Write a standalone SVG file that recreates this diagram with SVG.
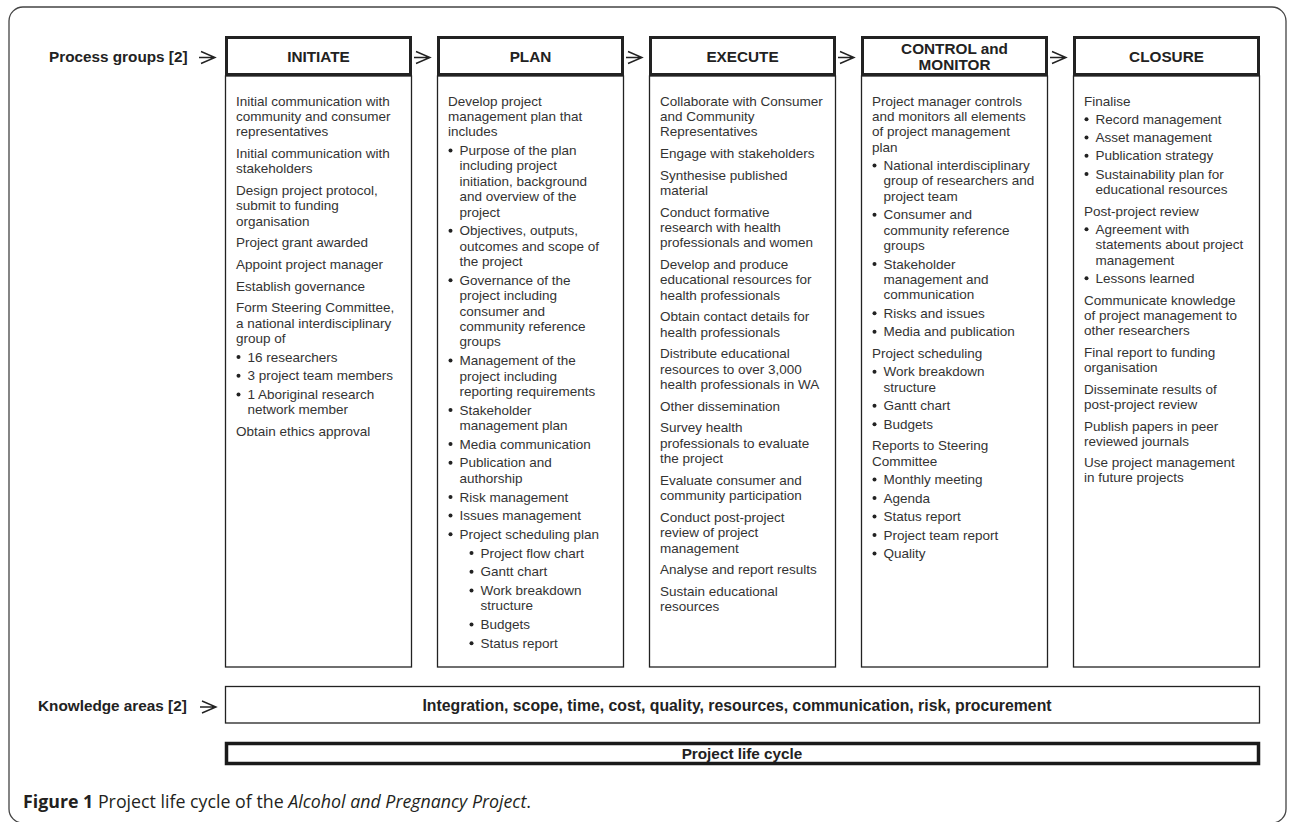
<svg xmlns="http://www.w3.org/2000/svg" width="1290" height="822" viewBox="0 0 1290 822">
<style>
.frame{fill:none;stroke:#444;stroke-width:1.3}
.hdr{fill:#fff;stroke:#222;stroke-width:3}
.body{fill:#fff;stroke:#222;stroke-width:1.3}
.bold{font-family:"Liberation Sans",Arial,sans-serif;font-weight:bold;font-size:15.3px;fill:#222}
.t{font-family:"Liberation Sans",Arial,sans-serif;font-size:13.5px;fill:#333}
.dot{fill:#222}
.arr{fill:none;stroke:#222;stroke-width:1.4}
.cap{font-family:"Open Sans","Noto Sans",sans-serif;font-size:17.8px;fill:#231f20}
</style>
<defs>
<g id="arw"><path class="arr" d="M0,0 H16 M2,-6 L16,0 L2,6"/></g>
<circle id="b" class="dot" r="2"/>
</defs>
<rect class="frame" x="9" y="7" width="1277" height="816" rx="14"/>

<g id="label-process"><text class="bold" x="49" y="61.5">Process groups [2]</text></g>
<g id="label-knowledge"><text class="bold" x="38" y="710.5">Knowledge areas [2]</text></g>

<g id="connectors">
<use href="#arw" x="199" y="57.5"/>
<use href="#arw" x="414" y="57.5"/>
<use href="#arw" x="626" y="57.5"/>
<use href="#arw" x="838" y="57.5"/>
<use href="#arw" x="1050" y="57.5"/>
<use href="#arw" x="200" y="707"/>
</g>

<g id="initiate">
<rect class="body" x="225.5" y="76" width="186" height="591"/>
<rect class="hdr" x="226.5" y="37.5" width="184" height="37"/>
<text class="bold" x="318.5" y="61.5" text-anchor="middle">INITIATE</text>
<text class="t">
<tspan x="236" y="105.5">Initial communication with</tspan>
<tspan x="236" y="120.9">community and consumer</tspan>
<tspan x="236" y="136.3">representatives</tspan>
<tspan x="236" y="157.9">Initial communication with</tspan>
<tspan x="236" y="173.3">stakeholders</tspan>
<tspan x="236" y="194.9">Design project protocol,</tspan>
<tspan x="236" y="210.3">submit to funding</tspan>
<tspan x="236" y="225.7">organisation</tspan>
<tspan x="236" y="247.3">Project grant awarded</tspan>
<tspan x="236" y="268.9">Appoint project manager</tspan>
<tspan x="236" y="290.5">Establish governance</tspan>
<tspan x="236" y="312.1">Form Steering Committee,</tspan>
<tspan x="236" y="327.5">a national interdisciplinary</tspan>
<tspan x="236" y="342.9">group of</tspan>
<tspan x="247.5" y="361.6">16 researchers</tspan>
<tspan x="247.5" y="380.3">3 project team members</tspan>
<tspan x="247.5" y="399">1 Aboriginal research</tspan>
<tspan x="247.5" y="414.4">network member</tspan>
<tspan x="236" y="436">Obtain ethics approval</tspan>
</text>
<use href="#b" x="238.5" y="357"/>
<use href="#b" x="238.5" y="375.7"/>
<use href="#b" x="238.5" y="394.4"/>
</g>

<g id="plan">
<rect class="body" x="437.5" y="76" width="186" height="591"/>
<rect class="hdr" x="438.5" y="37.5" width="184" height="37"/>
<text class="bold" x="530.5" y="61.5" text-anchor="middle">PLAN</text>
<text class="t">
<tspan x="448" y="105.5">Develop project</tspan>
<tspan x="448" y="120.9">management plan that</tspan>
<tspan x="448" y="136.3">includes</tspan>
<tspan x="459.5" y="155">Purpose of the plan</tspan>
<tspan x="459.5" y="170.4">including project</tspan>
<tspan x="459.5" y="185.8">initiation, background</tspan>
<tspan x="459.5" y="201.2">and overview of the</tspan>
<tspan x="459.5" y="216.6">project</tspan>
<tspan x="459.5" y="235.3">Objectives, outputs,</tspan>
<tspan x="459.5" y="250.7">outcomes and scope of</tspan>
<tspan x="459.5" y="266.1">the project</tspan>
<tspan x="459.5" y="284.8">Governance of the</tspan>
<tspan x="459.5" y="300.2">project including</tspan>
<tspan x="459.5" y="315.6">consumer and</tspan>
<tspan x="459.5" y="331">community reference</tspan>
<tspan x="459.5" y="346.4">groups</tspan>
<tspan x="459.5" y="365.1">Management of the</tspan>
<tspan x="459.5" y="380.5">project including</tspan>
<tspan x="459.5" y="395.9">reporting requirements</tspan>
<tspan x="459.5" y="414.6">Stakeholder</tspan>
<tspan x="459.5" y="430">management plan</tspan>
<tspan x="459.5" y="448.7">Media communication</tspan>
<tspan x="459.5" y="467.4">Publication and</tspan>
<tspan x="459.5" y="482.8">authorship</tspan>
<tspan x="459.5" y="501.5">Risk management</tspan>
<tspan x="459.5" y="520.2">Issues management</tspan>
<tspan x="459.5" y="538.9">Project scheduling plan</tspan>
<tspan x="480.5" y="557.6">Project flow chart</tspan>
<tspan x="480.5" y="576.3">Gantt chart</tspan>
<tspan x="480.5" y="595">Work breakdown</tspan>
<tspan x="480.5" y="610.4">structure</tspan>
<tspan x="480.5" y="629.1">Budgets</tspan>
<tspan x="480.5" y="647.8">Status report</tspan>
</text>
<use href="#b" x="450.5" y="150.4"/>
<use href="#b" x="450.5" y="230.7"/>
<use href="#b" x="450.5" y="280.2"/>
<use href="#b" x="450.5" y="360.5"/>
<use href="#b" x="450.5" y="410"/>
<use href="#b" x="450.5" y="444.1"/>
<use href="#b" x="450.5" y="462.8"/>
<use href="#b" x="450.5" y="496.9"/>
<use href="#b" x="450.5" y="515.6"/>
<use href="#b" x="450.5" y="534.3"/>
<use href="#b" x="471.5" y="553"/>
<use href="#b" x="471.5" y="571.7"/>
<use href="#b" x="471.5" y="590.4"/>
<use href="#b" x="471.5" y="624.5"/>
<use href="#b" x="471.5" y="643.2"/>
</g>

<g id="execute">
<rect class="body" x="649.5" y="76" width="186" height="591"/>
<rect class="hdr" x="650.5" y="37.5" width="184" height="37"/>
<text class="bold" x="742.5" y="61.5" text-anchor="middle">EXECUTE</text>
<text class="t">
<tspan x="660" y="105.5">Collaborate with Consumer</tspan>
<tspan x="660" y="120.9">and Community</tspan>
<tspan x="660" y="136.3">Representatives</tspan>
<tspan x="660" y="157.9">Engage with stakeholders</tspan>
<tspan x="660" y="179.5">Synthesise published</tspan>
<tspan x="660" y="194.9">material</tspan>
<tspan x="660" y="216.5">Conduct formative</tspan>
<tspan x="660" y="231.9">research with health</tspan>
<tspan x="660" y="247.3">professionals and women</tspan>
<tspan x="660" y="268.9">Develop and produce</tspan>
<tspan x="660" y="284.3">educational resources for</tspan>
<tspan x="660" y="299.7">health professionals</tspan>
<tspan x="660" y="321.3">Obtain contact details for</tspan>
<tspan x="660" y="336.7">health professionals</tspan>
<tspan x="660" y="358.3">Distribute educational</tspan>
<tspan x="660" y="373.7">resources to over 3,000</tspan>
<tspan x="660" y="389.1">health professionals in WA</tspan>
<tspan x="660" y="410.7">Other dissemination</tspan>
<tspan x="660" y="432.3">Survey health</tspan>
<tspan x="660" y="447.7">professionals to evaluate</tspan>
<tspan x="660" y="463.1">the project</tspan>
<tspan x="660" y="484.7">Evaluate consumer and</tspan>
<tspan x="660" y="500.1">community participation</tspan>
<tspan x="660" y="521.7">Conduct post-project</tspan>
<tspan x="660" y="537.1">review of project</tspan>
<tspan x="660" y="552.5">management</tspan>
<tspan x="660" y="574.1">Analyse and report results</tspan>
<tspan x="660" y="595.7">Sustain educational</tspan>
<tspan x="660" y="611.1">resources</tspan>
</text>
</g>

<g id="control">
<rect class="body" x="861.5" y="76" width="186" height="591"/>
<rect class="hdr" x="862.5" y="37.5" width="184" height="37"/>
<text class="bold" text-anchor="middle"><tspan x="954.5" y="53.5">CONTROL and</tspan><tspan x="954.5" y="70">MONITOR</tspan></text>
<text class="t">
<tspan x="872" y="105.5">Project manager controls</tspan>
<tspan x="872" y="120.9">and monitors all elements</tspan>
<tspan x="872" y="136.3">of project management</tspan>
<tspan x="872" y="151.7">plan</tspan>
<tspan x="883.5" y="170">National interdisciplinary</tspan>
<tspan x="883.5" y="185.4">group of researchers and</tspan>
<tspan x="883.5" y="200.8">project team</tspan>
<tspan x="883.5" y="219.3">Consumer and</tspan>
<tspan x="883.5" y="234.7">community reference</tspan>
<tspan x="883.5" y="250.1">groups</tspan>
<tspan x="883.5" y="268.6">Stakeholder</tspan>
<tspan x="883.5" y="284">management and</tspan>
<tspan x="883.5" y="299.4">communication</tspan>
<tspan x="883.5" y="317.9">Risks and issues</tspan>
<tspan x="883.5" y="336.4">Media and publication</tspan>
<tspan x="872" y="357.9">Project scheduling</tspan>
<tspan x="883.5" y="376.4">Work breakdown</tspan>
<tspan x="883.5" y="391.8">structure</tspan>
<tspan x="883.5" y="410.3">Gantt chart</tspan>
<tspan x="883.5" y="428.8">Budgets</tspan>
<tspan x="872" y="450.3">Reports to Steering</tspan>
<tspan x="872" y="465.7">Committee</tspan>
<tspan x="883.5" y="484.2">Monthly meeting</tspan>
<tspan x="883.5" y="502.7">Agenda</tspan>
<tspan x="883.5" y="521.2">Status report</tspan>
<tspan x="883.5" y="539.7">Project team report</tspan>
<tspan x="883.5" y="558.2">Quality</tspan>
</text>
<use href="#b" x="874.5" y="165.4"/>
<use href="#b" x="874.5" y="214.7"/>
<use href="#b" x="874.5" y="264"/>
<use href="#b" x="874.5" y="313.3"/>
<use href="#b" x="874.5" y="331.8"/>
<use href="#b" x="874.5" y="371.8"/>
<use href="#b" x="874.5" y="405.7"/>
<use href="#b" x="874.5" y="424.2"/>
<use href="#b" x="874.5" y="479.6"/>
<use href="#b" x="874.5" y="498.1"/>
<use href="#b" x="874.5" y="516.6"/>
<use href="#b" x="874.5" y="535.1"/>
<use href="#b" x="874.5" y="553.6"/>
</g>

<g id="closure">
<rect class="body" x="1073.5" y="76" width="186" height="591"/>
<rect class="hdr" x="1074.5" y="37.5" width="184" height="37"/>
<text class="bold" x="1166.5" y="61.5" text-anchor="middle">CLOSURE</text>
<text class="t">
<tspan x="1084" y="105.5">Finalise</tspan>
<tspan x="1095.5" y="123.8">Record management</tspan>
<tspan x="1095.5" y="142.1">Asset management</tspan>
<tspan x="1095.5" y="160.4">Publication strategy</tspan>
<tspan x="1095.5" y="178.7">Sustainability plan for</tspan>
<tspan x="1095.5" y="194.1">educational resources</tspan>
<tspan x="1084" y="215.5">Post-project review</tspan>
<tspan x="1095.5" y="233.8">Agreement with</tspan>
<tspan x="1095.5" y="249.2">statements about project</tspan>
<tspan x="1095.5" y="264.6">management</tspan>
<tspan x="1095.5" y="282.9">Lessons learned</tspan>
<tspan x="1084" y="304.5">Communicate knowledge</tspan>
<tspan x="1084" y="319.9">of project management to</tspan>
<tspan x="1084" y="335.3">other researchers</tspan>
<tspan x="1084" y="357">Final report to funding</tspan>
<tspan x="1084" y="372.4">organisation</tspan>
<tspan x="1084" y="394">Disseminate results of</tspan>
<tspan x="1084" y="409.4">post-project review</tspan>
<tspan x="1084" y="430.5">Publish papers in peer</tspan>
<tspan x="1084" y="445.9">reviewed journals</tspan>
<tspan x="1084" y="467">Use project management</tspan>
<tspan x="1084" y="482.4">in future projects</tspan>
</text>
<use href="#b" x="1086.5" y="119.2"/>
<use href="#b" x="1086.5" y="137.5"/>
<use href="#b" x="1086.5" y="155.8"/>
<use href="#b" x="1086.5" y="174.1"/>
<use href="#b" x="1086.5" y="229.2"/>
<use href="#b" x="1086.5" y="278.3"/>
</g>

<g id="knowledge-areas">
<rect class="body" x="225.5" y="686.5" width="1034" height="36.5"/>
<text class="bold" x="737" y="710.5" text-anchor="middle" style="font-size:15.8px">Integration, scope, time, cost, quality, resources, communication, risk, procurement</text>
</g>

<g id="life-cycle">
<rect fill="#fff" stroke="#1a1a1a" stroke-width="3.5" x="226.5" y="743.5" width="1032" height="20"/>
<text class="bold" x="742" y="758.5" text-anchor="middle">Project life cycle</text>
</g>

<g id="caption">
<text class="cap" x="23" y="808"><tspan font-weight="bold">Figure 1</tspan> Project life cycle of the <tspan font-style="italic">Alcohol and Pregnancy Project</tspan>.</text>
</g>
</svg>
